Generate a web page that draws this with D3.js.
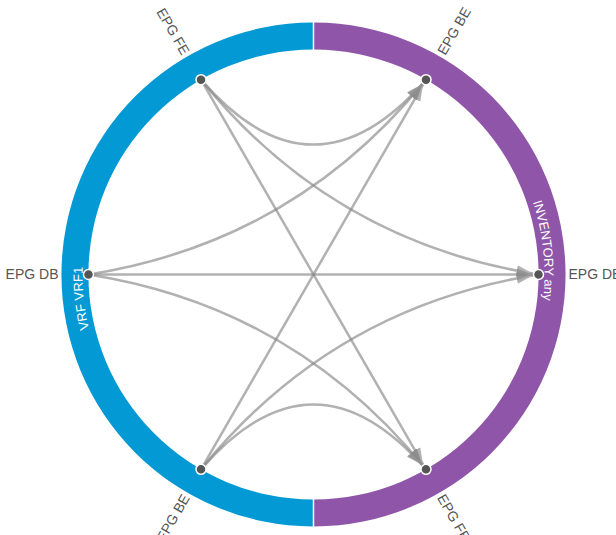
<!DOCTYPE html>
<html lang="en">
<head>
    <meta charset="UTF-8">
    <title>Chord style flow diagram</title>
    <script src="https://d3js.org/d3.v7.min.js"></script>
    <style>
        body { margin: 0; background: #fff; }
        svg { display: block; }
        .label { font-family: "Liberation Sans", Arial, sans-serif; font-size: 14px; fill: #555; }
        .group-label { font-family: "Liberation Sans", Arial, sans-serif; font-size: 13px; fill: #fff; }
    </style>
</head>
<body>
<div id="chart"></div>
<script>
    // groups (the two halves of the ring)
    const groups = ["VRF VRF1", "INVENTORY any"];
    const groupColors = ["#0399d4", "#8f55a9"];

    // nodes on each half, top to bottom
    const leftNodes = ["EPG FE", "EPG DB", "EPG BE"];
    const rightNodes = ["EPG BE", "EPG DB", "EPG FE"];

    // every left node sends to every right node
    const links = [
        { source: "EPG FE", target: "EPG BE" },
        { source: "EPG FE", target: "EPG DB" },
        { source: "EPG FE", target: "EPG FE" },
        { source: "EPG DB", target: "EPG BE" },
        { source: "EPG DB", target: "EPG DB" },
        { source: "EPG DB", target: "EPG FE" },
        { source: "EPG BE", target: "EPG BE" },
        { source: "EPG BE", target: "EPG DB" },
        { source: "EPG BE", target: "EPG FE" }
    ];

    const width = 616, height = 535;
    const cx = 313.5, cy = 274.5;
    const outerR = 252, innerR = 225;

    const svg = d3.select("#chart").append("svg")
        .attr("width", width)
        .attr("height", height);

    const g = svg.append("g").attr("transform", `translate(${cx},${cy})`);

    // angle scales, degrees clockwise from top
    const rightAngle = d3.scalePoint().domain(rightNodes).range([0, 180]).padding(0.5);
    const leftAngle = d3.scalePoint().domain(leftNodes).range([360, 180]).padding(0.5);

    const rad = d => d * Math.PI / 180;
    const pos = (a, r) => [r * Math.sin(rad(a)), -r * Math.cos(rad(a))];

    // ring
    const arc = d3.arc().innerRadius(innerR).outerRadius(outerR)
        .padAngle(0.006).padRadius(outerR);

    const halves = [
        { name: groups[0], start: rad(180), end: rad(360), color: groupColors[0] },
        { name: groups[1], start: 0, end: rad(180), color: groupColors[1] }
    ];

    g.selectAll("path.ring")
        .data(halves)
        .join("path")
        .attr("class", "ring")
        .attr("d", d => arc({ startAngle: d.start, endAngle: d.end }))
        .attr("fill", d => d.color);

    // text path for ring labels (clockwise circle)
    const tr = 231;
    g.append("path")
        .attr("id", "ringPath")
        .attr("d", `M0,${-tr} A${tr},${tr} 0 1,1 0,${tr} A${tr},${tr} 0 1,1 0,${-tr}`)
        .attr("fill", "none");

    const circ = 2 * Math.PI * tr;
    const labelCenter = [264, 84]; // degrees along the path
    g.selectAll("text.group-label")
        .data(halves)
        .join("text")
        .attr("class", "group-label")
        .append("textPath")
        .attr("href", "#ringPath")
        .attr("startOffset", (d, i) => (labelCenter[i] / 360 * circ).toFixed(1))
        .attr("text-anchor", "middle")
        .text(d => d.name);

    // arrow marker
    svg.append("defs").append("marker")
        .attr("id", "arrow")
        .attr("markerUnits", "userSpaceOnUse")
        .attr("viewBox", "0 -7 24 14")
        .attr("markerWidth", 24)
        .attr("markerHeight", 14)
        .attr("refX", 22)
        .attr("refY", 0)
        .attr("orient", "auto")
        .append("path")
        .attr("d", "M0,-6L16,0L0,6Z")
        .attr("fill", "#888");

    // links: quadratic curve pulled a third of the way toward the centre
    const linkPath = d => {
        const s = pos(leftAngle(d.source), innerR);
        const t = pos(rightAngle(d.target), innerR);
        const k = 1 / 3;
        const c = [k * (s[0] + t[0]) / 2, k * (s[1] + t[1]) / 2];
        const p = d3.path();
        p.moveTo(s[0], s[1]);
        p.quadraticCurveTo(c[0], c[1], t[0], t[1]);
        return p.toString();
    };

    g.append("g")
        .selectAll("path")
        .data(links)
        .join("path")
        .attr("d", linkPath)
        .attr("fill", "none")
        .attr("stroke", "#888")
        .attr("stroke-width", 2.5)
        .attr("opacity", 0.65)
        .attr("marker-end", "url(#arrow)");

    // nodes + outer labels
    const nodes = leftNodes.map(n => ({ name: n, angle: leftAngle(n) }))
        .concat(rightNodes.map(n => ({ name: n, angle: rightAngle(n) })));

    g.append("g")
        .selectAll("circle")
        .data(nodes)
        .join("circle")
        .attr("cx", d => pos(d.angle, innerR)[0])
        .attr("cy", d => pos(d.angle, innerR)[1])
        .attr("r", 5)
        .attr("fill", "#555")
        .attr("stroke", "#fff")
        .attr("stroke-width", 1.5);

    const labelR = 255;
    g.append("g")
        .selectAll("text")
        .data(nodes)
        .join("text")
        .attr("class", "label")
        .attr("dy", "0.35em")
        .attr("text-anchor", d => d.angle > 180 ? "end" : "start")
        .attr("transform", d => {
            const [x, y] = pos(d.angle, labelR);
            const rot = d.angle > 180 ? d.angle + 90 : d.angle - 90;
            return `translate(${x},${y}) rotate(${rot})`;
        })
        .text(d => d.name);
</script>
</body>
</html>
